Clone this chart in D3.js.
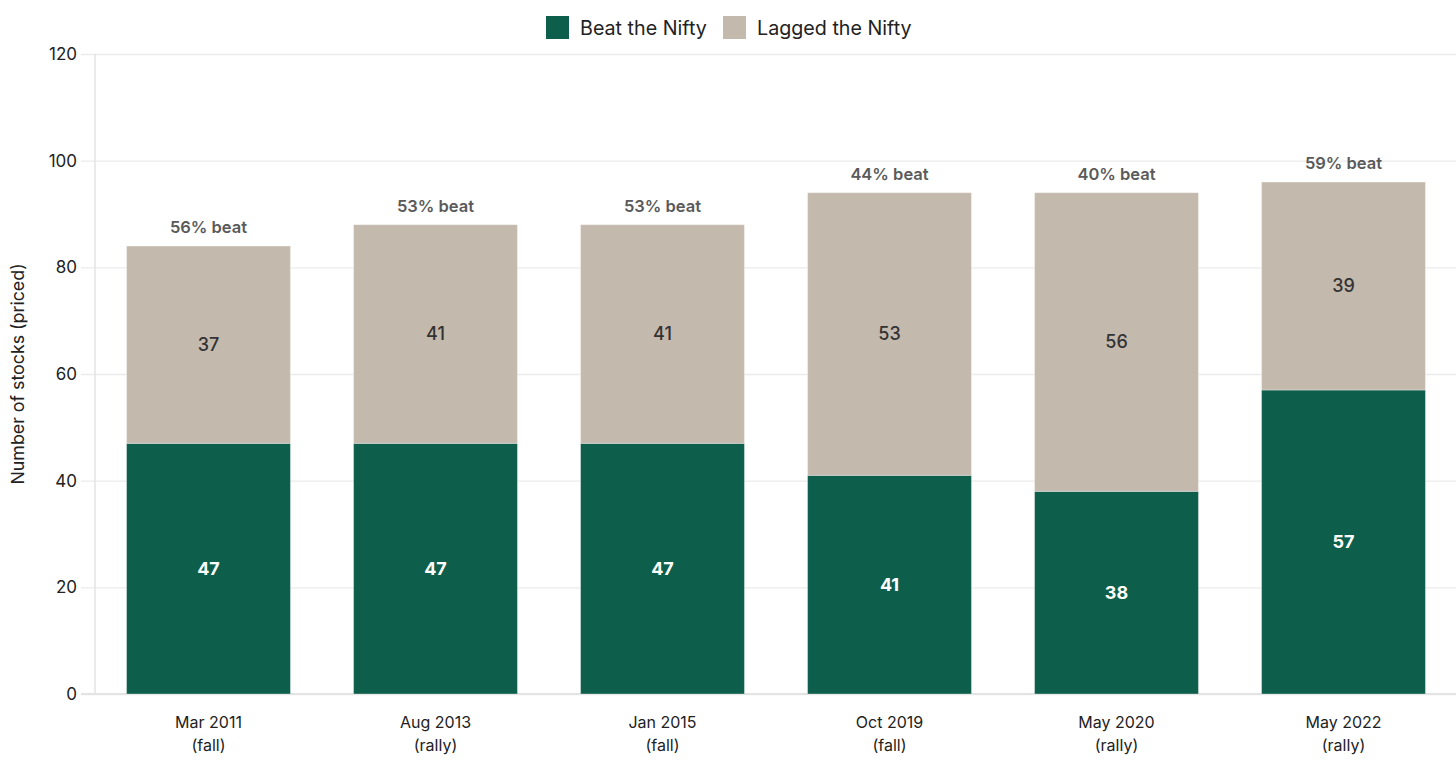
<!DOCTYPE html>
<html><head><meta charset="utf-8">
<script src="https://cdn.jsdelivr.net/npm/d3@7"></script>
<style>
html,body{margin:0;padding:0;background:#fff;}
svg{display:block;font-family:Inter, "Noto Sans", sans-serif;}
</style></head>
<body>
<svg id="chart" width="1456" height="761"></svg>
<script>
const categories = ["Mar 2011|(fall)","Aug 2013|(rally)","Jan 2015|(fall)","Oct 2019|(fall)","May 2020|(rally)","May 2022|(rally)"];
const beat = [47,47,47,41,38,57];
const lagged = [37,41,41,53,56,39];
const yTicks = [0,20,40,60,80,100,120];
const seriesNames = ["Beat the Nifty","Lagged the Nifty"];
const colors = ["#0d5e4b","#c4b9ad"];

const svg = d3.select("#chart");
const W = 1456, H = 761;
const m = {top:54, right:0, bottom:67, left:95};

const x = d3.scaleBand().domain(categories).range([m.left, W+1]).paddingInner(0.278).paddingOuter(0.139);
const y = d3.scaleLinear().domain([0,120]).range([H-m.bottom, m.top]);

// gridlines + y axis
const yAxis = d3.axisLeft(y).tickValues(yTicks).tickSize(-(W-m.left)).tickPadding(18);
const gy = svg.append("g").attr("transform",`translate(${m.left},0)`).call(yAxis);
gy.select(".domain").remove();
gy.selectAll(".tick line").attr("stroke","#ebebeb").attr("stroke-width",1.3).attr("x1",-14);
gy.selectAll(".tick text").attr("fill","#222").attr("font-size",17).attr("font-family","Inter");
// left axis line
svg.append("line").attr("x1",m.left).attr("x2",m.left).attr("y1",m.top).attr("y2",y(0))
  .attr("stroke","#e3e3e3").attr("stroke-width",1.5);
svg.append("line").attr("x1",m.left-14).attr("x2",W).attr("y1",y(0)).attr("y2",y(0))
  .attr("stroke","#e3e3e3").attr("stroke-width",2);

// stacked data
const data = categories.map((c,i)=>({cat:c, beat:beat[i], lagged:lagged[i]}));
const stack = d3.stack().keys(["beat","lagged"])(data);

const g = svg.append("g");
stack.forEach((layer,li)=>{
  g.selectAll(null).data(layer).enter().append("rect")
    .attr("x",d=>x(d.data.cat))
    .attr("width",x.bandwidth())
    .attr("y",d=>y(d[1]))
    .attr("height",d=>y(d[0])-y(d[1]))
    .attr("fill",colors[li])
    .attr("stroke","#ffffff").attr("stroke-opacity",0.35).attr("stroke-width",1);
  g.selectAll(null).data(layer).enter().append("text")
    .attr("x",d=>x(d.data.cat)+x.bandwidth()/2)
    .attr("y",d=>y((d[0]+d[1])/2))
    .attr("dy","0.36em")
    .attr("text-anchor","middle")
    .attr("font-size",18)
    .attr("font-weight",li===0?700:500)
    .attr("fill",li===0?"#ffffff":"#333333")
    .text(d=>d[1]-d[0]);
});

// percent labels
g.selectAll(null).data(data).enter().append("text")
  .attr("x",d=>x(d.cat)+x.bandwidth()/2)
  .attr("y",d=>y(d.beat+d.lagged)-13)
  .attr("text-anchor","middle")
  .attr("font-size",16.5)
  .attr("font-weight",600)
  .attr("fill","#5a5a5a")
  .text(d=>Math.round(d.beat/(d.beat+d.lagged)*100)+"% beat");

// x labels
const xl = svg.append("g");
categories.forEach(c=>{
  const parts = c.split("|");
  const t = xl.append("text").attr("text-anchor","middle").attr("font-size",16).attr("fill","#222")
    .attr("x",x(c)+x.bandwidth()/2);
  t.append("tspan").attr("x",x(c)+x.bandwidth()/2).attr("y",728).text(parts[0]);
  t.append("tspan").attr("x",x(c)+x.bandwidth()/2).attr("y",751).text(parts[1]);
});

// y title
svg.append("text").attr("transform",`translate(24,${(m.top+y(0))/2+0}) rotate(-90)`)
  .attr("text-anchor","middle").attr("font-size",17.8).attr("fill","#222")
  .text("Number of stocks (priced)");

// legend
const leg = svg.append("g");
const legX = [546, 723];
seriesNames.forEach((n,i)=>{
  leg.append("rect").attr("x",legX[i]).attr("y",16).attr("width",23).attr("height",23).attr("fill",colors[i]);
  leg.append("text").attr("x",legX[i]+34).attr("y",34.5).attr("font-size",19.7).attr("fill","#222").text(n);
});
</script>
</body></html>
